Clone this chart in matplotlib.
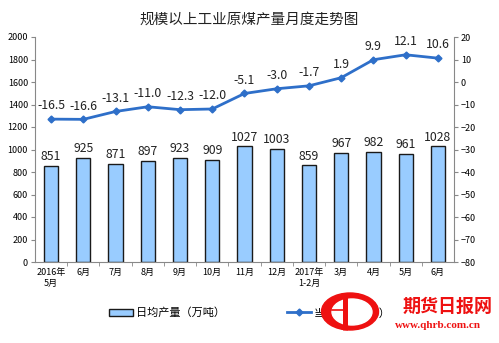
import matplotlib.pyplot as plt
from matplotlib.patches import Ellipse

plt.rcParams['font.family'] = ['Noto Sans CJK SC', 'DejaVu Sans']

months = ['2016年\n5月', '6月', '7月', '8月', '9月', '10月', '11月', '12月',
          '2017年\n1-2月', '3月', '4月', '5月', '6月']
output = [851, 925, 871, 897, 923, 909, 1027, 1003, 859, 967, 982, 961, 1028]
growth = [-16.5, -16.6, -13.1, -11.0, -12.3, -12.0, -5.1, -3.0, -1.7, 1.9, 9.9, 12.1, 10.6]

fig = plt.figure(figsize=(4.99, 3.43), dpi=100)
ax = fig.add_axes([35 / 499, 1 - 262 / 343, (454 - 35) / 499, (262 - 37) / 343])
ax2 = ax.twinx()

x = list(range(len(months)))
bars = ax.bar(x, output, width=0.44, color='#99CCFF', edgecolor='#1a1a1a', linewidth=1.0,
              zorder=2)
for i, v in enumerate(output):
    ax.text(i, v + 25, str(v), ha='center', va='bottom', fontsize=8.8, color='#222222')

line, = ax2.plot(x, growth, color='#2E6FC9', linewidth=2, marker='D', markersize=3.5,
                 zorder=3)
for i, v in enumerate(growth):
    ax2.text(i, v + 3, f'{v:.1f}', ha='center', va='bottom', fontsize=8.8, color='#222222')

ax.set_xlim(-0.5, len(months) - 0.5)
ax.set_ylim(0, 2000)
ax.set_yticks(range(0, 2001, 200))
ax2.set_ylim(-80, 20)
ax2.set_yticks(range(-80, 21, 10))

ax.set_xticks(x)
ax.set_xticklabels(months, fontsize=6.5, linespacing=1.3)
ax.set_xticks([i + 0.5 for i in x[:-1]], minor=True)
ax.tick_params(axis='x', which='major', length=0, pad=4)
ax.tick_params(axis='x', which='minor', length=3, color='#888888', direction='out')
ax.tick_params(axis='y', labelsize=6.5, length=3, color='#888888', pad=2)
ax2.tick_params(axis='y', labelsize=6.5, length=3, color='#888888', pad=2)

for a in (ax, ax2):
    for s in a.spines.values():
        s.set_visible(False)
ax.spines['left'].set_visible(True)
ax.spines['bottom'].set_visible(True)
ax2.spines['right'].set_visible(True)
for s in (ax.spines['left'], ax.spines['bottom'], ax2.spines['right']):
    s.set_color('#888888')
    s.set_linewidth(0.8)

fig.text(0.5, 1 - 20 / 343, '规模以上工业原煤产量月度走势图', ha='center', va='center',
         fontsize=10.5, color='#222222')

fig.legend([bars, line], ['日均产量（万吨）', '当月增速（%）'], loc='center',
           bbox_to_anchor=(250 / 499, 1 - 313 / 343), ncol=2, frameon=False, fontsize=8,
           handlelength=2.1, handletextpad=0.3, columnspacing=5.6)

# watermark logo in the bottom right corner, drawn over the legend
wm = fig.add_axes([0, 0, 1, 1], facecolor='none')
wm.set_zorder(10)
wm.set_xlim(0, 499)
wm.set_ylim(343, 0)
wm.axis('off')
wm.add_patch(Ellipse((350, 311.5), 57, 37, color='#EE1111'))
wm.add_patch(Ellipse((352, 312), 40, 26, color='white'))
wm.plot([345, 345], [293, 330], color='#EE1111', linewidth=3.6, solid_capstyle='butt')
wm.plot([332, 345], [310, 310], color='#EE1111', linewidth=1.2)
wm.text(448, 306, '期货日报网', ha='center', va='center', fontsize=13, color='#EE1111',
        fontweight='bold')
wm.text(438, 326, 'www.qhrb.com.cn', ha='center', va='center', fontsize=8, color='#EE1111',
        family='Liberation Serif', fontweight='bold')

fig.savefig('out.png', dpi=100)
